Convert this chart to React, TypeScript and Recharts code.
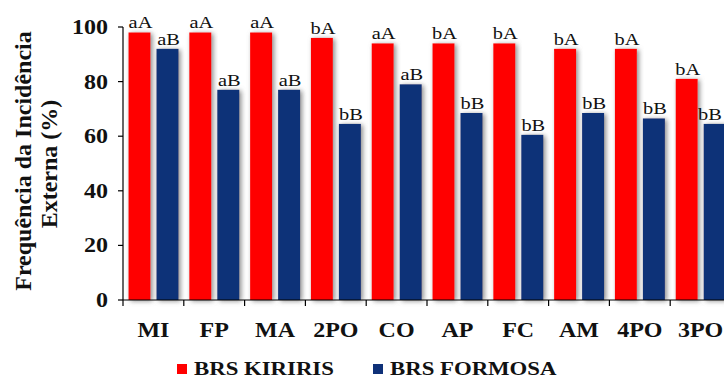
import React from "react";
import { Bar, BarChart, LabelList, Legend, XAxis, YAxis } from "recharts";

const categories = ["MI", "FP", "MA", "2PO", "CO", "AP", "FC", "AM", "4PO", "3PO"];
const kiririsValues = [98, 98, 98, 96, 94, 94, 94, 92, 92, 81];
const formosaValues = [92, 77, 77, 64.5, 79, 68.5, 60.5, 68.5, 66.5, 64.5];
const kiririsLetters = ["aA", "aA", "aA", "bA", "aA", "bA", "bA", "bA", "bA", "bA"];
const formosaLetters = ["aB", "aB", "aB", "bB", "aB", "bB", "bB", "bB", "bB", "bB"];
const yTicks = [0, 20, 40, 60, 80, 100];
const seriesNames = ["BRS KIRIRIS", "BRS FORMOSA"];

const data = categories.map((name, i) => ({
  name,
  kiriris: kiririsValues[i],
  formosa: formosaValues[i],
  kiririsLabel: kiririsLetters[i],
  formosaLabel: formosaLetters[i],
}));

const SERIF = '"Liberation Serif", "Times New Roman", serif';
const RED = "#ff0000";
const BLUE = "#0f3178";
const VIEW_W = 724;
const PLOT_W = 608;
const BAND = PLOT_W / categories.length;
const STRETCH = 1.2;

function XTick(props: any) {
  const { x, y, payload } = props;
  const left = x - BAND / 2;
  return (
    <g>
      <line x1={left} y1={y} x2={left} y2={y + 6} stroke="#000" strokeWidth={1.2} />
      <text
        transform={`translate(${x},${y + 37}) scale(${STRETCH},1)`}
        textAnchor="middle"
        style={{ fontFamily: SERIF, fontWeight: 700, fontSize: 20 }}
        fill="#111"
      >
        {payload.value}
      </text>
    </g>
  );
}

function YTick(props: any) {
  const { x, y, payload } = props;
  return (
    <text
      transform={`translate(${x},${y}) scale(${STRETCH},1)`}
      textAnchor="end"
      dy="0.35em"
      style={{ fontFamily: SERIF, fontWeight: 700, fontSize: 20 }}
      fill="#111"
    >
      {payload.value}
    </text>
  );
}

function BarLetter(props: any) {
  const { x, y, width, value } = props;
  // keep the last label inside the visible area
  const cx = Math.min(x + width / 2 + 1, VIEW_W - 14);
  return (
    <text
      transform={`translate(${cx},${y - 4}) scale(${STRETCH},1)`}
      textAnchor="middle"
      style={{ fontFamily: SERIF, fontSize: 17 }}
      fill="#111"
    >
      {value}
    </text>
  );
}

function ShadowBar(props: any) {
  const { x, y, width, height, fill } = props;
  return <rect x={x} y={y} width={width} height={height} fill={fill} filter="url(#barShadow)" />;
}

function YTitle() {
  const st = { fontFamily: SERIF, fontWeight: 700, fontSize: 24 };
  return (
    <g fill="#111">
      <text x={23} y={161} transform="rotate(-90 23 161)" textAnchor="middle" dominantBaseline="central" style={st}>
        Frequência da Incidência
      </text>
      <text x={49} y={164} transform="rotate(-90 49 164)" textAnchor="middle" dominantBaseline="central" style={st}>
        Externa (%)
      </text>
    </g>
  );
}

const legendX = [177, 373];

function LegendContent(props: any) {
  const items = [...(props.payload || [])].sort(
    (a: any, b: any) => seriesNames.indexOf(a.value) - seriesNames.indexOf(b.value)
  );
  return (
    <svg width={VIEW_W} height={28} style={{ display: "block" }}>
      {items.map((entry: any, i: number) => (
        <g key={entry.value}>
          <rect x={legendX[i]} y={13} width={10} height={10} fill={entry.color} />
          <text
            transform={`translate(${legendX[i] + 17},${23.5}) scale(${STRETCH},1)`}
            style={{ fontFamily: SERIF, fontWeight: 700, fontSize: 19 }}
            fill="#111"
          >
            {entry.value}
          </text>
        </g>
      ))}
    </svg>
  );
}

export default function App() {
  return (
    <div style={{ position: "absolute", left: 0, top: 0, width: VIEW_W, height: 379, overflow: "hidden", background: "#fff" }}>
      <BarChart
        width={740}
        height={379}
        data={data}
        margin={{ top: 27, right: 9, left: 0, bottom: 0 }}
        barCategoryGap={5.5}
        barGap={6}
      >
        <defs>
          <filter id="barShadow" x="-30%" y="-10%" width="160%" height="120%">
            <feDropShadow dx={2} dy={1} stdDeviation={2.4} floodColor="#6e6e6e" floodOpacity={0.8} />
          </filter>
        </defs>
        <XAxis
          dataKey="name"
          height={51}
          interval={0}
          tickLine={false}
          tickSize={0}
          tickMargin={0}
          axisLine={{ stroke: "#000", strokeWidth: 1.2 }}
          tick={<XTick />}
        />
        <YAxis
          width={123}
          domain={[0, 100]}
          ticks={yTicks}
          interval={0}
          tickSize={5}
          tickMargin={10}
          axisLine={{ stroke: "#000", strokeWidth: 1.2 }}
          tickLine={{ stroke: "#000", strokeWidth: 1.2 }}
          tick={<YTick />}
          label={{ content: () => <YTitle /> }}
        />
        <Legend
          verticalAlign="bottom"
          height={28}
          wrapperStyle={{ left: 0, width: VIEW_W }}
          content={<LegendContent />}
        />
        <Bar dataKey="kiriris" name={seriesNames[0]} fill={RED} shape={<ShadowBar />} isAnimationActive={false}>
          <LabelList dataKey="kiririsLabel" content={<BarLetter />} />
        </Bar>
        <Bar dataKey="formosa" name={seriesNames[1]} fill={BLUE} shape={<ShadowBar />} isAnimationActive={false}>
          <LabelList dataKey="formosaLabel" content={<BarLetter />} />
        </Bar>
      </BarChart>
    </div>
  );
}
